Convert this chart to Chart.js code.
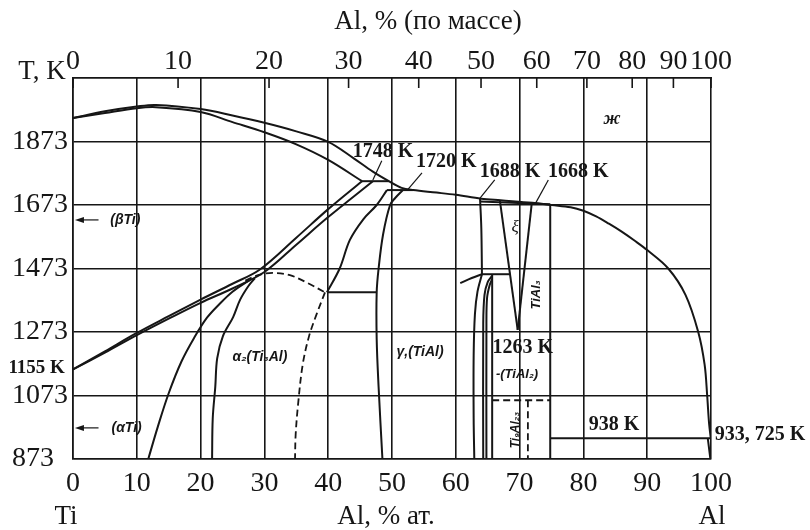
<!DOCTYPE html>
<html>
<head>
<meta charset="utf-8">
<script src="https://cdn.jsdelivr.net/npm/chart.js@4.4.1/dist/chart.umd.min.js"></script>
<style>
  body { margin: 0; background: #fff; }
  #wrap { width: 810px; height: 530px; }
</style>
</head>
<body>
<div id="wrap"><canvas id="diagram" width="810" height="530"></canvas></div>
<script>
// Ti-Al phase diagram: x = at.% Al, y = T (K)
const atTicks = [0, 10, 20, 30, 40, 50, 60, 70, 80, 90, 100];
const massTicks = [0, 10, 20, 30, 40, 50, 60, 70, 80, 90, 100];
const tempTicks = [873, 1073, 1273, 1473, 1673, 1873];

// phase boundaries, [at.% Al, T]
const liquidus = [[0,1947],[5,1968],[10,1983],[13,1988],[20,1975],[25,1955],[30,1932],[35,1905],[40,1872],[44,1820],[47,1778],[49.5,1748],[51.5,1727],[53.3,1720],[57,1712],[60,1705],[64,1693],[67,1688],[72,1680],[75,1673],[78,1666],[80,1655],[82,1637],[84,1614],[86,1589],[88,1561],[90,1531],[93.3,1473],[96,1390],[98,1273],[99,1170],[99.4,1073],[99.7,985],[100,933]];
const betaSolidus = [[0,1947],[5,1963],[10,1978],[13,1981],[20,1966],[25,1934],[30,1902],[35,1864],[40,1815],[45.3,1748]];
const betaTransus = [[0,1155],[5,1212],[10,1270],[15,1323],[20,1375],[25,1425],[29.3,1470],[35,1570],[40,1660],[45.3,1748]];
const alphaBeta = [[0,1155],[5,1208],[10,1263],[15,1315],[20,1365],[25,1410],[30,1462],[35,1548],[40,1635],[47,1748]];
const alphaAlpha2 = [[11.8,873],[13.3,975],[15,1080],[17,1180],[19,1255],[21,1318],[23,1362],[25,1400],[27.7,1437]];
const alpha2Left = [[21.8,873],[21.9,1000],[22.3,1100],[22.6,1190],[23.5,1260],[25.1,1320],[26.2,1375],[27.5,1418],[28.5,1442]];
const orderDome = [[27,1435],[29,1452],[31.3,1459],[34,1452],[36.7,1428],[39.5,1398]];
const alpha2Right = [[39.5,1398],[38.2,1330],[37,1260],[36,1170],[35.3,1050],[34.9,950],[34.8,873]];
const alphaGamma = [[39.8,1398],[41.8,1473],[43.4,1563],[45.5,1628],[47.6,1673],[49.2,1720]];
const gammaLeft = [[51.7,1720],[50.5,1695],[49.7,1673],[48.6,1580],[47.9,1473],[47.6,1398],[47.6,1250],[47.9,1100],[48.5,873]];
const gammaRightTop = [[63.8,1693],[64,1600],[64.1,1455]];
const gammaRightLow = [[64.1,1455],[63.4,1400],[63,1330],[62.8,1200],[62.8,1000],[62.9,873]];
const stub = [[60.7,1427],[62.5,1443],[64.1,1455]];
const tial2A = [[64.3,873],[64.3,1300],[64.5,1390],[65,1430],[65.7,1450]];
const tial2B = [[64.8,873],[64.8,1300],[64.9,1380],[65.3,1420],[65.7,1440]];
const line657 = [[65.7,873],[65.7,1455]];
const xiLeft = [[66.9,1688],[69.7,1280]];
const xiRight = [[71.9,1677],[69.7,1280]];
const tial3 = [[74.8,1675],[74.8,873]];
const ti9al23Top = [[65.7,1058],[74.8,1058]];
const ti9al23 = [[71.3,1058],[71.3,873]];
const alSolvus = [[99.5,938],[99.9,873]];
const iso1748 = [[45.3,1748],[49.5,1748]];
const iso1720 = [[49.2,1720],[53.3,1720]];
const iso1455 = [[64.1,1455],[68.5,1455]];
const iso1398 = [[39.8,1398],[47.6,1398]];
const iso1680 = [[63.8,1684],[74.8,1675]];
const iso938 = [[74.8,938],[100,938]];

const INK = '#161616';
const SERIF = '"Liberation Serif", "Times New Roman", serif';
const SANS = '"Liberation Sans", Arial, sans-serif';

function massToAt(w) {
  if (w >= 100) return 100;
  const a = w / 26.98, t = (100 - w) / 47.87;
  return 100 * a / (a + t);
}

function curve(points, opts) {
  return Object.assign({
    data: points.map(p => ({ x: p[0], y: p[1] })),
    showLine: true,
    borderColor: INK,
    borderWidth: 2,
    pointRadius: 0,
    tension: 0.35,
    fill: false
  }, opts || {});
}
const straight = { tension: 0 };
const dashed = { borderDash: [7, 4], borderWidth: 1.8 };

const datasets = [
  curve(liquidus), curve(betaSolidus), curve(betaTransus), curve(alphaBeta),
  curve(alphaAlpha2), curve(alpha2Left), curve(orderDome, dashed), curve(alpha2Right, dashed),
  curve(alphaGamma), curve(gammaLeft), curve(gammaRightTop), curve(gammaRightLow),
  curve(stub), curve(tial2A), curve(tial2B), curve(line657, straight),
  curve(xiLeft, straight), curve(xiRight, straight), curve(tial3, straight),
  curve(ti9al23Top, Object.assign({ tension: 0 }, dashed)), curve(ti9al23, Object.assign({ tension: 0 }, dashed)),
  curve(alSolvus, straight), curve(iso1748, straight), curve(iso1720, straight),
  curve(iso1455, straight), curve(iso1398, straight), curve(iso1680, straight), curve(iso938, straight)
];

// text placed in data coordinates
const notes = [
  { t: 'ж', x: 84.5, y: 1944, f: 'italic bold 18px ' + SERIF },
  { t: '1748 K', x: 48.6, y: 1840, f: 'bold 20px ' + SERIF },
  { t: '1720 K', x: 58.5, y: 1809, f: 'bold 20px ' + SERIF },
  { t: '1688 K', x: 68.5, y: 1777, f: 'bold 20px ' + SERIF },
  { t: '1668 K', x: 79.2, y: 1777, f: 'bold 20px ' + SERIF },
  { t: '1263 K', x: 70.5, y: 1223, f: 'bold 20px ' + SERIF },
  { t: '938 K', x: 84.8, y: 980, f: 'bold 20px ' + SERIF },
  { t: '933, 725 K', x: 107.7, y: 949, f: 'bold 20px ' + SERIF },
  { t: '1155 K', x: -5.7, y: 1160, f: 'bold 19px ' + SERIF },
  { t: 'α₂(Ti₃Al)', x: 29.3, y: 1194, f: 'italic bold 14px ' + SANS },
  { t: 'γ,(TiAl)', x: 54.4, y: 1210, f: 'italic bold 14px ' + SANS },
  { t: 'ξ', x: 69.3, y: 1601, f: 'italic 17px ' + SERIF },
  { t: '-(TiAl₂)', x: 69.6, y: 1138, f: 'italic bold 13px ' + SANS },
  { t: '(βTi)', x: 8.2, y: 1626, f: 'italic bold 14px ' + SANS },
  { t: '(αTi)', x: 8.4, y: 971, f: 'italic bold 14px ' + SANS },
  { t: 'TiAl₃', x: 72.7, y: 1390, f: 'italic bold 13px ' + SANS, rot: true },
  { t: 'Ti₉Al₂₃', x: 69.4, y: 964, f: 'italic bold 12px ' + SANS, rot: true }
];
const leaders = [[48.4,1812,47.0,1752],[54.7,1774,52.5,1722],[66.1,1752,63.8,1695],[74.5,1752,72.4,1675]];
const arrows = [[4.0,1626,0.3],[4.0,971,0.3]];

const decor = {
  id: 'decor',
  afterDatasetsDraw(chart) {
    const { ctx, chartArea: a, scales: { x, y, x2 } } = chart;
    ctx.save();
    ctx.strokeStyle = INK;
    ctx.fillStyle = INK;
    // inner ticks of mass-% axis
    ctx.lineWidth = 1.6;
    x2.ticks.forEach(tk => {
      const px = x2.getPixelForValue(tk.value);
      ctx.beginPath(); ctx.moveTo(px, a.top); ctx.lineTo(px, a.top + 10); ctx.stroke();
    });
    // leaders
    ctx.lineWidth = 1.2;
    leaders.forEach(l => {
      ctx.beginPath();
      ctx.moveTo(x.getPixelForValue(l[0]), y.getPixelForValue(l[1]));
      ctx.lineTo(x.getPixelForValue(l[2]), y.getPixelForValue(l[3]));
      ctx.stroke();
    });
    // arrows to the Ti axis
    arrows.forEach(r => {
      const x0 = x.getPixelForValue(r[0]), x1 = x.getPixelForValue(r[2]), py = y.getPixelForValue(r[1]);
      ctx.beginPath(); ctx.moveTo(x0, py); ctx.lineTo(x1 + 4, py); ctx.stroke();
      ctx.beginPath(); ctx.moveTo(x1, py); ctx.lineTo(x1 + 9, py - 3); ctx.lineTo(x1 + 9, py + 3); ctx.closePath(); ctx.fill();
    });
    // labels
    ctx.textAlign = 'center';
    ctx.textBaseline = 'middle';
    notes.forEach(n => {
      ctx.font = n.f;
      const px = x.getPixelForValue(n.x), py = y.getPixelForValue(n.y);
      if (n.rot) {
        ctx.save(); ctx.translate(px, py); ctx.rotate(-Math.PI / 2);
        ctx.fillText(n.t, 0, 0); ctx.restore();
      } else {
        ctx.fillText(n.t, px, py);
      }
    });
    // axis titles
    ctx.font = '27px ' + SERIF;
    ctx.fillText('Al, % (по массе)', 428, 22);
    ctx.fillText('T, K', 42, 72);
    ctx.fillText('Ti', 66, 517);
    ctx.fillText('Al, % ат.', 386, 517);
    ctx.fillText('Al', 712, 517);
    ctx.restore();
  }
};

const tickFont = { family: SERIF, size: 28 };

new Chart(document.getElementById('diagram'), {
  type: 'scatter',
  data: { datasets: datasets },
  options: {
    responsive: false,
    animation: false,
    layout: { padding: { left: 12, right: 99, top: 0, bottom: 0 } },
    plugins: { legend: { display: false }, tooltip: { enabled: false } },
    scales: {
      x: {
        type: 'linear', position: 'bottom', min: 0, max: 100,
        afterBuildTicks: s => { s.ticks = atTicks.map(v => ({ value: v })); },
        afterFit: s => { s.height = 71; },
        grid: { color: INK, lineWidth: 1.6, drawTicks: false },
        border: { color: INK, width: 1.6 },
        ticks: { color: INK, font: tickFont, padding: 8, maxRotation: 0, autoSkip: false }
      },
      x2: {
        type: 'linear', position: 'top', min: 0, max: 100,
        afterBuildTicks: s => { s.ticks = massTicks.map(w => ({ value: massToAt(w) })); },
        afterFit: s => { s.height = 78; },
        grid: { display: false, drawTicks: false },
        border: { display: true, color: INK, width: 1.6 },
        ticks: { color: INK, font: tickFont, padding: 0, maxRotation: 0, minRotation: 0, autoSkip: false,
                 callback: (v, i) => massTicks[i] }
      },
      y: {
        type: 'linear', min: 873, max: 2073,
        afterBuildTicks: s => { s.ticks = tempTicks.concat([2073]).map(v => ({ value: v })); },
        afterFit: s => { s.width = 61; },
        grid: { color: INK, lineWidth: 1.6, drawTicks: false },
        border: { color: INK, width: 1.6 },
        ticks: { color: INK, font: tickFont, padding: 6, crossAlign: 'far',
                 callback: v => (tempTicks.includes(v) ? v : '') }
      }
    }
  },
  plugins: [decor]
});
</script>
</body>
</html>
